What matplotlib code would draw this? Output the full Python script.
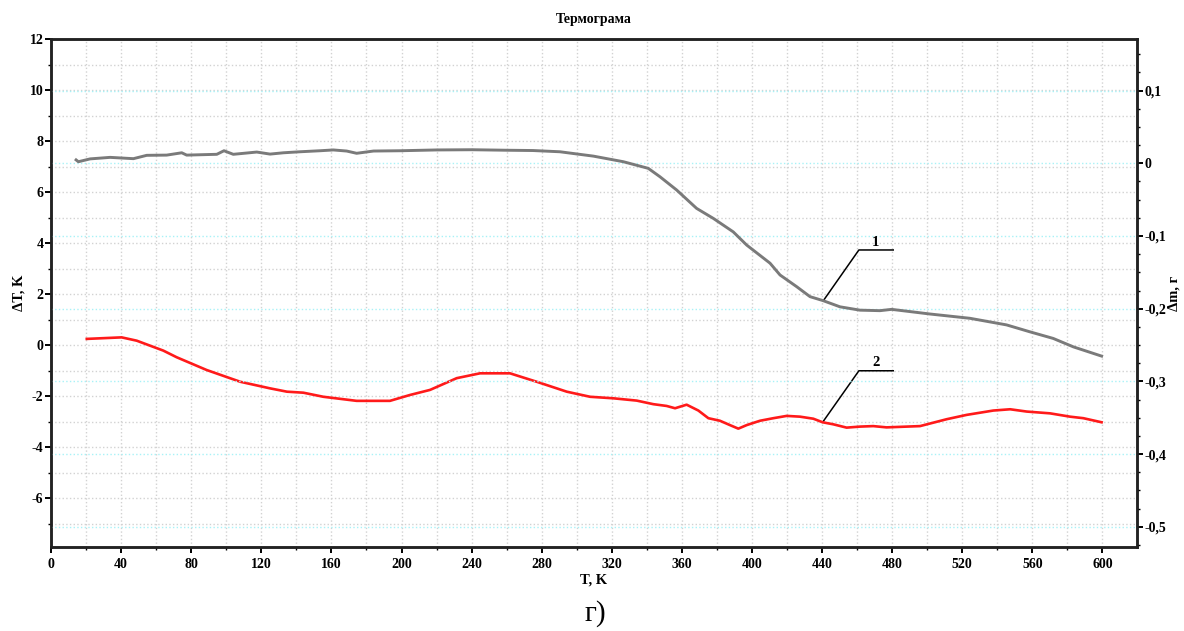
import numpy as np
import matplotlib
matplotlib.use("Agg")
import matplotlib.pyplot as plt
from matplotlib.ticker import MultipleLocator, FuncFormatter

plt.rcParams['font.family'] = ['Liberation Serif', 'DejaVu Serif']
plt.rcParams['axes.unicode_minus'] = False

# curve 1: mass change, right axis (Δm, г)
t_mass = [14.3, 15.6, 22.3, 33.7, 47, 54.6, 66, 74.6, 77.4, 94.6, 98.7, 104,
          117.4, 125, 132.6, 142.1, 153.5, 161.1, 168.7, 174.4, 184, 199.2,
          220, 240, 260, 275, 290.4, 309.5, 326.6, 340.8, 347.5, 357, 368.4,
          377.9, 389.3, 397, 410.3, 416, 425.5, 433.1, 440.7, 450.2, 461.6,
          473, 479.7, 501.6, 524.4, 545.3, 558.6, 571.9, 583.4, 599.5]
dm = [0.0047, 0.0022, 0.0061, 0.0082, 0.0064, 0.011, 0.0113, 0.0145, 0.0113,
      0.0124, 0.0173, 0.0124, 0.0155, 0.0127, 0.0145, 0.0159, 0.0173, 0.0184,
      0.0169, 0.0138, 0.0169, 0.0173, 0.0184, 0.0187, 0.018, 0.0176, 0.0159,
      0.0099, 0.0022, -0.0069, -0.0185, -0.0367, -0.062, -0.0757, -0.0943,
      -0.1125, -0.1374, -0.1536, -0.1697, -0.1834, -0.189, -0.1974, -0.202,
      -0.2027, -0.2009, -0.2073, -0.2132, -0.2223, -0.2318, -0.2409, -0.2525,
      -0.2652]

# curve 2: temperature difference, left axis (ΔT, K)
t_dt = [20.4, 40.3, 48.9, 64.1, 71.7, 88.8, 107.9, 125, 134.6, 144, 155.4,
        164.9, 174.4, 193.4, 204.8, 216.3, 231.5, 244.8, 261.9, 277.1, 294.3,
        307.6, 320.9, 334.2, 343.7, 351.3, 356.1, 362.7, 369.4, 375.1, 381.7,
        387.4, 392.2, 397, 404.6, 412.2, 419.8, 427.4, 435, 440.3, 446.4, 454,
        461.6, 469.2, 476.8, 495.9, 511.1, 522.5, 537.7, 547.3, 556.8, 570.1,
        581.5, 589.1, 599.5]
dT = [0.25, 0.31, 0.18, -0.21, -0.47, -0.97, -1.43, -1.69, -1.82, -1.86,
      -2.02, -2.10, -2.18, -2.18, -1.95, -1.75, -1.29, -1.10, -1.10, -1.43,
      -1.82, -2.02, -2.08, -2.17, -2.31, -2.38, -2.47, -2.33, -2.56, -2.86,
      -2.96, -3.13, -3.27, -3.13, -2.96, -2.86, -2.77, -2.80, -2.88, -3.02,
      -3.10, -3.23, -3.19, -3.17, -3.22, -3.17, -2.90, -2.73, -2.56, -2.51,
      -2.60, -2.67, -2.80, -2.86, -3.02]

fig = plt.figure(figsize=(11.84, 6.31), dpi=100)
ax = fig.add_axes([0.0431, 0.1336, 0.9169, 0.8041])
ax2 = ax.twinx()

ax.set_xlim(0, 619.5)
ax.set_ylim(-7.9, 12)
ax2.set_ylim(-0.5274, 0.1706)

ax.xaxis.set_major_locator(MultipleLocator(40))
ax.xaxis.set_minor_locator(MultipleLocator(20))
ax.yaxis.set_major_locator(MultipleLocator(2))
ax.yaxis.set_minor_locator(MultipleLocator(1))
ax2.yaxis.set_major_locator(MultipleLocator(0.1))
ax2.yaxis.set_minor_locator(MultipleLocator(0.025))

ax.grid(which='both', axis='both', color='#d2d2d2', linestyle=':', linewidth=1.0)
ax2.grid(which='major', axis='y', color='#a8f2f7', linestyle=':', linewidth=1.0)
ax.set_axisbelow(True)

def comma(v, pos):
    s = f"{v:.1f}".replace('.', ',')
    if s in ('0,0', '-0,0'):
        return '0'
    return s

ax2.yaxis.set_major_formatter(FuncFormatter(comma))

for a in (ax, ax2):
    for sp in a.spines.values():
        sp.set_linewidth(1.8)
        sp.set_color('#222222')
    a.tick_params(which='major', length=4, width=1.4, labelsize=10, pad=1.5)
    a.tick_params(which='minor', length=2.5, width=1.0)
    for lab in a.get_xticklabels() + a.get_yticklabels():
        lab.set_fontweight('bold')
ax.tick_params(axis='x', which='major', pad=4)

ax.plot(t_dt, dT, color='#ff1a1a', linewidth=1.9, zorder=3)
ax2.plot(t_mass, dm, color='#7a7a7a', linewidth=2.1, zorder=3)

# leader lines with curve numbers
ax2.plot([440.7, 461, 480.6], [-0.189, -0.1192, -0.1192], color='black', linewidth=1.1)
ax2.text(470.6, -0.1175, '1', fontsize=10.5, fontweight='bold', ha='center', va='bottom')
ax.plot([440.3, 461, 480.6], [-3.02, -1.0, -1.0], color='black', linewidth=1.1)
ax.text(470.6, -0.93, '2', fontsize=10.5, fontweight='bold', ha='center', va='bottom')

ax.set_title('Термограма', fontsize=10, fontweight='bold', pad=12)
ax.set_xlabel('T, K', fontsize=10.5, fontweight='bold', labelpad=2)
ax.set_ylabel('ΔT, K', fontsize=10.5, fontweight='bold', labelpad=3)
ax2.set_ylabel('Δm, г', fontsize=10.5, fontweight='bold', labelpad=1)

fig.text(0.503, 0.028, 'г)', fontsize=21, ha='center', va='center')

fig.savefig('out.png', dpi=100)
